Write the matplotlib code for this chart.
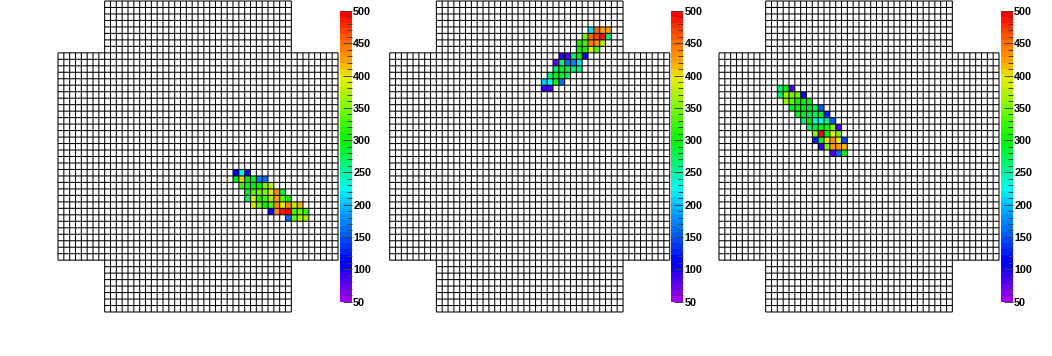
import numpy as np
import matplotlib
matplotlib.use("Agg")
import matplotlib.pyplot as plt
from matplotlib.colors import LinearSegmentedColormap, Normalize
from matplotlib.collections import LineCollection

W, H = 1052, 356
N_CELLS = 48
CORNER = 8
VMIN, VMAX = 50, 500
CBAR_TICKS = [50, 100, 150, 200, 250, 300, 350, 400, 450, 500]

# each row: row index, first column, cell values
p1_rows = [26, 27, 28, 29, 30, 31, 32, 33]
p1_starts = [30, 30, 31, 32, 32, 33, 36, 39]
p1_values = [
    [120, 225, 110],
    [290, 405, 300, 290, 175, 165],
    [320, 290, 300, 300, 350, 375],
    [290, 330, 340, 350, 390, 430, 280],
    [265, 385, 310, 320, 370, 420, 330, 310],
    [385, 345, 310, 330, 430, 400, 430, 375, 415],
    [110, 430, 490, 495, 330, 345, 320],
    [160, 345, 365, 365],
]

p2_rows = [4, 5, 6, 7, 8, 9, 10, 11, 12, 13]
p2_starts = [34, 33, 32, 32, 29, 28, 28, 27, 26, 26]
p2_values = [
    [215, 450, 420, 420],
    [350, 450, 470, 490, 265],
    [310, 320, 440, 430, 375],
    [300, 310, 395, 330],
    [90, 85, 260, 300, 110],
    [75, 265, 165, 170, 215],
    [265, 290, 280, 265, 265],
    [265, 300, 290, 270],
    [205, 225, 310, 165],
    [90, 85],
]

p3_rows = [13, 14, 15, 16, 17, 18, 19, 20, 21, 22, 23]
p3_starts = [10, 10, 11, 12, 13, 14, 15, 16, 16, 17, 19]
p3_values = [
    [265, 300, 85],
    [265, 360, 350, 345, 100],
    [360, 340, 310, 300, 300],
    [290, 300, 295, 300, 270, 150],
    [285, 290, 280, 270, 285, 130],
    [265, 300, 235, 230, 255, 150],
    [270, 280, 290, 310, 350, 85],
    [355, 495, 300, 400, 350],
    [130, 290, 400, 430, 395, 140],
    [90, 355, 425, 420, 410],
    [85, 165, 310],
]

panels = [
    (58.0, p1_rows, p1_starts, p1_values),
    (389.7, p2_rows, p2_starts, p2_values),
    (719.0, p3_rows, p3_starts, p3_values),
]

palette_stops = [50, 100, 110, 150, 200, 225, 250, 300, 350, 380, 400, 425, 450, 500]
palette_rgb = ["#a000f0", "#0a00fa", "#0000ff", "#005aff", "#00beff", "#00fff0",
               "#00f5a0", "#00f500", "#78fa00", "#bef000", "#e6f000", "#ffa000",
               "#ff7800", "#ff0000"]
palette = LinearSegmentedColormap.from_list(
    "rainbow_root",
    [((s - VMIN) / (VMAX - VMIN), c) for s, c in zip(palette_stops, palette_rgb)],
    N=50,
)
norm = Normalize(VMIN, VMAX)


def rect(x0, y0, x1, y1):
    return [x0 / W, 1 - y1 / H, (x1 - x0) / W, (y1 - y0) / H]


def grid_segments():
    segs = []
    for i in range(N_CELLS + 1):
        inner = CORNER <= i <= N_CELLS - CORNER
        lo, hi = (0, N_CELLS) if inner else (CORNER, N_CELLS - CORNER)
        segs.append([(i, lo), (i, hi)])
        segs.append([(lo, i), (hi, i)])
    return segs


fig = plt.figure(figsize=(W / 100, H / 100), dpi=100, facecolor="white")
edges = np.arange(N_CELLS + 1)

for x0, rows, starts, values in panels:
    ax = fig.add_axes(rect(x0, 1, x0 + 280, 312))
    hits = np.full((N_CELLS, N_CELLS), np.nan)
    for r, s, vals in zip(rows, starts, values):
        hits[r, s:s + len(vals)] = vals
    mesh = ax.pcolormesh(edges, edges, np.ma.masked_invalid(hits),
                         cmap=palette, norm=norm, zorder=1)
    lines = LineCollection(grid_segments(), colors="black", linewidths=0.75,
                           zorder=2, clip_on=False)
    lines.set_snap(False)
    ax.add_collection(lines)
    ax.set_xlim(0, N_CELLS)
    ax.set_ylim(N_CELLS, 0)
    ax.axis("off")

    cax = fig.add_axes(rect(x0 + 281.5, 11, x0 + 293.5, 301.5))
    cb = fig.colorbar(mesh, cax=cax, ticks=CBAR_TICKS)
    cb.outline.set_visible(False)
    cb.ax.set_yticks(np.arange(VMIN, VMAX + 1, 10), minor=True)
    cb.ax.tick_params(axis="y", which="major", direction="in", length=6.5,
                      width=0.7, color="#404040", pad=1.2, labelsize=7.8)
    cb.ax.tick_params(axis="y", which="minor", direction="in", length=3.6,
                      width=0.7, color="#404040")
    for lab in cb.ax.get_yticklabels():
        lab.set_fontfamily("Liberation Sans")
        lab.set_fontweight("bold")
        lab.set_color("black")

fig.savefig("out.png", dpi=100, facecolor="white")
